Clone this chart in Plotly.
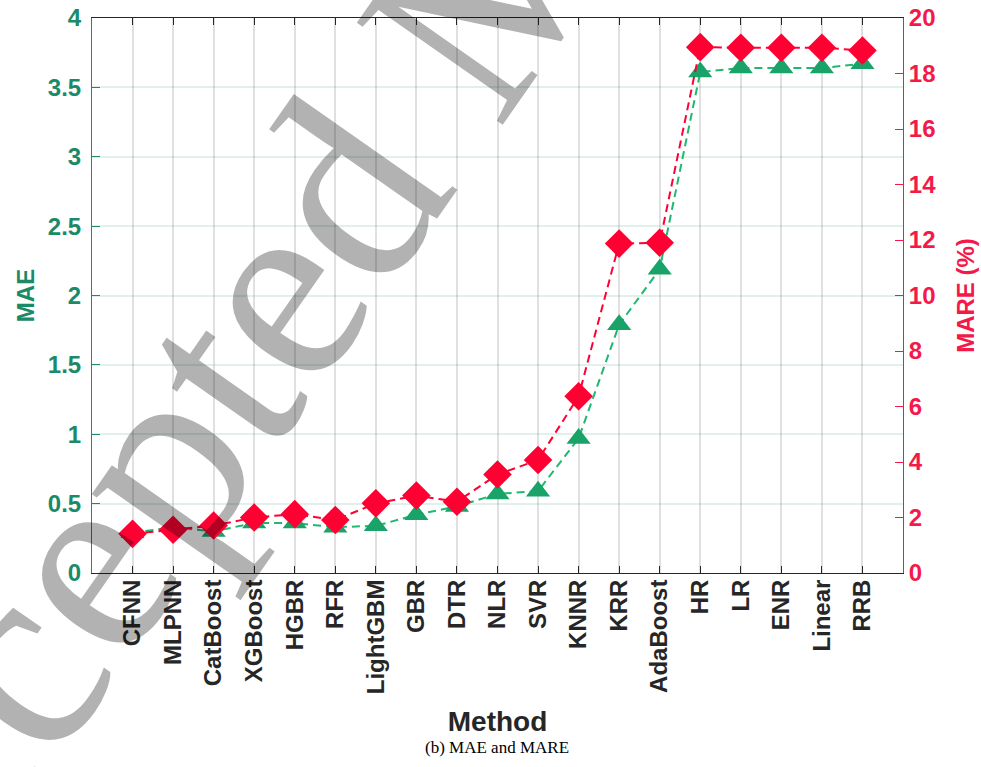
import plotly.graph_objects as go

methods = ["CFNN", "MLPNN", "CatBoost", "XGBoost", "HGBR", "RFR", "LightGBM", "GBR", "DTR",
           "NLR", "SVR", "KNNR", "KRR", "AdaBoost", "HR", "LR", "ENR", "Linear", "RRB"]
mae = [0.29, 0.33, 0.30, 0.36, 0.36, 0.33, 0.34, 0.42, 0.48,
       0.57, 0.59, 0.97, 1.79, 2.19, 3.61, 3.64, 3.64, 3.64, 3.67]
mare = [1.41, 1.56, 1.71, 2.00, 2.12, 1.91, 2.51, 2.79, 2.57,
        3.55, 4.07, 6.37, 11.87, 11.90, 18.95, 18.93, 18.93, 18.93, 18.83]

mae_ticks = [0, 0.5, 1, 1.5, 2, 2.5, 3, 3.5, 4]
mae_labels = ["0", "0.5", "1", "1.5", "2", "2.5", "3", "3.5", "4"]
mare_ticks = [0, 2, 4, 6, 8, 10, 12, 14, 16, 18, 20]
mare_labels = ["0", "2", "4", "6", "8", "10", "12", "14", "16", "18", "20"]

GREEN_AX = "#1b8a68"
GREEN_MK = "#1aa368"
GREEN_LN = "#1fb870"
RED_AX = "#f5194a"
RED_MK = "#ff0033"
DARK = "#262626"
SANS = "Liberation Sans, Arial, sans-serif"
SERIF = "Liberation Serif, Times New Roman, serif"


def bold(labels):
    return ["<b>%s</b>" % s for s in labels]


fig = go.Figure()
fig.add_trace(go.Scatter(
    x=methods, y=mae, mode="lines+markers", name="MAE", yaxis="y",
    line=dict(color=GREEN_LN, width=2, dash="8px,5px"),
    marker=dict(symbol="triangle-up", size=21, color=GREEN_MK, line=dict(width=0)),
    showlegend=False,
))
fig.add_trace(go.Scatter(
    x=methods, y=mare, mode="lines+markers", name="MARE", yaxis="y2",
    line=dict(color=RED_MK, width=2, dash="8px,5px"),
    marker=dict(symbol="diamond", size=22, color=RED_MK, line=dict(width=0)),
    showlegend=False,
))

fig.update_layout(
    width=981, height=767,
    margin=dict(l=92, r=78, t=18, b=194),
    plot_bgcolor="white", paper_bgcolor="white",
    xaxis=dict(
        range=[-1, 19], tickangle=-90, automargin=False,
        tickmode="array", tickvals=methods, ticktext=bold(methods),
        tickfont=dict(family=SANS, size=24, color=DARK),
        ticks="inside", ticklen=7, tickcolor=DARK, tickwidth=1,
        ticklabelstandoff=-4,
        showline=True, linecolor=DARK, linewidth=1, mirror="ticks",
        showgrid=True, gridcolor="rgba(0,0,0,0.12)", gridwidth=1.5,
        title=dict(text="<b>Method</b>", font=dict(family=SANS, size=28, color=DARK),
                   standoff=18),
    ),
    yaxis=dict(
        range=[0, 4], tickmode="array", tickvals=mae_ticks, ticktext=bold(mae_labels),
        automargin=False, ticklabelstandoff=5,
        tickfont=dict(family=SANS, size=24, color=GREEN_AX),
        ticks="inside", ticklen=8, tickcolor=GREEN_AX,
        showline=True, linecolor=GREEN_AX, linewidth=1,
        showgrid=True, gridcolor="rgba(27,138,104,0.13)", gridwidth=1.5, zeroline=False,
        title=dict(text="<b>MAE</b>", font=dict(family=SANS, size=24, color=GREEN_AX),
                   standoff=6),
    ),
    yaxis2=dict(
        range=[0, 20], tickmode="array", tickvals=mare_ticks, ticktext=bold(mare_labels),
        overlaying="y", side="right", automargin=False,
        tickfont=dict(family=SANS, size=24, color=RED_AX),
        ticks="inside", ticklen=8, tickcolor=RED_AX,
        showline=True, linecolor=RED_AX, linewidth=1,
        showgrid=False, zeroline=False,
        title=dict(text="<b>MARE (%)</b>", font=dict(family=SANS, size=24, color=RED_AX),
                   standoff=22),
    ),
    annotations=[
        dict(text="(b) MAE and MARE", xref="paper", yref="paper",
             x=(497 - 92) / 811, y=(573 - 747) / 555, xanchor="center", yanchor="middle",
             showarrow=False, font=dict(family=SERIF, size=17, color="black")),
        dict(text="Accepted Manuscript", xref="paper", yref="paper",
             x=(465 - 92) / 811, y=(573 - 20) / 555, xanchor="center", yanchor="middle",
             showarrow=False, textangle=-55,
             font=dict(family=SERIF, size=272, color="rgba(0,0,0,0.3)")),
    ],
)

fig.write_html("out.html", config={"displayModeBar": False},
               post_script="document.body.style.margin='0px';")
